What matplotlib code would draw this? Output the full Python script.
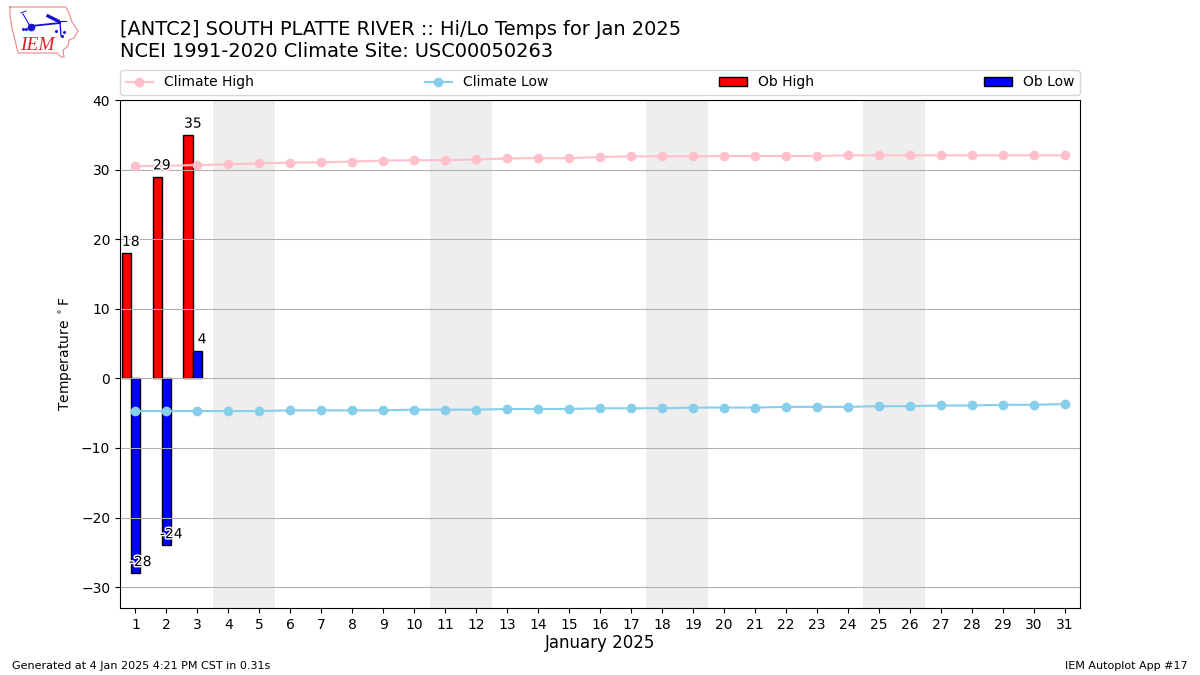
"""Hi/Lo temperatures for the month against the climate normals."""

import matplotlib

matplotlib.use("Agg")
import matplotlib.patheffects as PathEffects
import matplotlib.pyplot as plt
import numpy as np

W, H = 1200, 675

days = np.arange(1, 32)
climate_high = [30.5, 30.55, 30.65, 30.75, 30.9, 31.0, 31.05, 31.15, 31.3, 31.35, 31.35,
                31.45, 31.6, 31.65, 31.65, 31.8, 31.9, 31.9, 31.9, 31.95, 31.95,
                31.95, 31.95, 32.05, 32.05, 32.05, 32.05, 32.05, 32.05, 32.05, 32.05]
climate_low = [-4.7, -4.7, -4.7, -4.7, -4.7, -4.6, -4.6, -4.6, -4.6, -4.5, -4.5,
               -4.5, -4.4, -4.4, -4.4, -4.3, -4.3, -4.3, -4.2, -4.2, -4.2,
               -4.1, -4.1, -4.1, -4.0, -4.0, -3.9, -3.9, -3.8, -3.8, -3.7]
ob_days = np.array([1, 2, 3])
ob_high = [18, 29, 35]
ob_low = [-28, -24, 4]
weekend_starts = [4, 11, 18, 25]

TITLE = "[ANTC2] SOUTH PLATTE RIVER :: Hi/Lo Temps for Jan 2025\nNCEI 1991-2020 Climate Site: USC00050263"


def px(x, y):
    """Figure fraction from pixel position (top left origin)."""
    return x / W, 1 - y / H


def draw_logo(fig):
    # rough redraw of the IEM state outline and weather station glyph
    red = "#e8898e"
    blue = "#1414d2"
    outline = [(10, 7), (66, 7), (69, 13), (72, 22), (78, 31), (74, 38), (69, 40),
               (68, 46), (63, 50), (64, 57), (61, 57), (57, 53), (18, 53), (15, 40),
               (12, 28), (10, 16), (10, 7)]
    xs, ys = zip(*[px(*p) for p in outline])
    fig.add_artist(plt.Line2D(xs, ys, color=red, lw=0.8))
    for seg, lw in (
        ([(31, 26), (60, 23)], 1.3),
        ([(23, 14), (30, 26)], 0.8),
        ([(21, 13), (26, 11)], 0.7),
        ([(48, 16), (58, 21)], 2.4),
        ([(58, 21), (66, 21)], 0.8),
        ([(60, 22), (61, 36)], 1.0),
    ):
        xs, ys = zip(*[px(*p) for p in seg])
        fig.add_artist(plt.Line2D(xs, ys, color=blue, lw=lw))
    x, y = px(31, 26.5)
    fig.add_artist(plt.Line2D([x], [y], color=blue, marker="o", ms=4.5))
    for p in [(23, 29), (26, 29), (56, 31), (64, 32), (62, 36)]:
        x, y = px(*p)
        fig.add_artist(plt.Line2D([x], [y], color=blue, marker="o", ms=1.2))
    x, y = px(37.5, 45)
    fig.text(x, y, "IEM", color="#d8242c", family="Liberation Serif", style="italic",
             fontsize=14, ha="center", va="center")


def main():
    fig = plt.figure(figsize=(W / 100, H / 100), dpi=100)
    ax = fig.add_axes([120 / W, 1 - 608 / H, 960 / W, 508 / H])

    for start in weekend_starts:
        ax.axvspan(start - 0.5, start + 1.5, color="#eeeeee", lw=0)

    ax.bar(ob_days - 0.3, ob_high, width=0.3, color="r", edgecolor="k", label="Ob High")
    ax.bar(ob_days, ob_low, width=0.3, color="b", edgecolor="k", label="Ob Low")
    ax.plot(days, climate_high, color="pink", marker="o", label="Climate High")
    ax.plot(days, climate_low, color="skyblue", marker="o", label="Climate Low")

    effects = [PathEffects.withStroke(linewidth=2, foreground="white")]
    for day, val in zip(ob_days, ob_high):
        ax.text(day - 0.15, val + 0.6, f"{val}", ha="center", va="bottom", fontsize=10,
                path_effects=effects)
    for day, val in zip(ob_days, ob_low):
        ax.text(day + 0.15, val + 0.6, f"{val}", ha="center", va="bottom", fontsize=10,
                path_effects=effects)

    ax.set_xlim(0.5, 31.5)
    ax.set_ylim(-33, 40)
    ax.set_xticks(days)
    ax.set_yticks(np.arange(-30, 41, 10))
    ax.tick_params(axis="both", labelsize=10)
    ax.grid(axis="y", color="#b0b0b0", lw=0.8)
    ax.set_xlabel("January 2025", fontsize=12, labelpad=2)
    ax.set_ylabel(r"Temperature $^\circ$F")

    handles, labels = ax.get_legend_handles_labels()
    order = [labels.index(n) for n in ("Climate High", "Climate Low", "Ob High", "Ob Low")]
    ax.legend(
        [handles[i] for i in order],
        [labels[i] for i in order],
        loc="lower left",
        bbox_to_anchor=(0, 1.01, 1, 0.05),
        mode="expand",
        ncol=4,
        borderaxespad=0,
        fontsize=10,
    )

    fig.text(120 / W, 1 - 61 / H, TITLE, fontsize=13.95, ha="left", va="bottom", linespacing=1.2)
    fig.text(12 / W, 1 - 671 / H, "Generated at 4 Jan 2025 4:21 PM CST in 0.31s", fontsize=8, va="bottom")
    fig.text(1188 / W, 1 - 671 / H, "IEM Autoplot App #17", fontsize=8, ha="right", va="bottom")
    draw_logo(fig)

    fig.savefig("out.png", dpi=100)
    plt.close(fig)


if __name__ == "__main__":
    main()
